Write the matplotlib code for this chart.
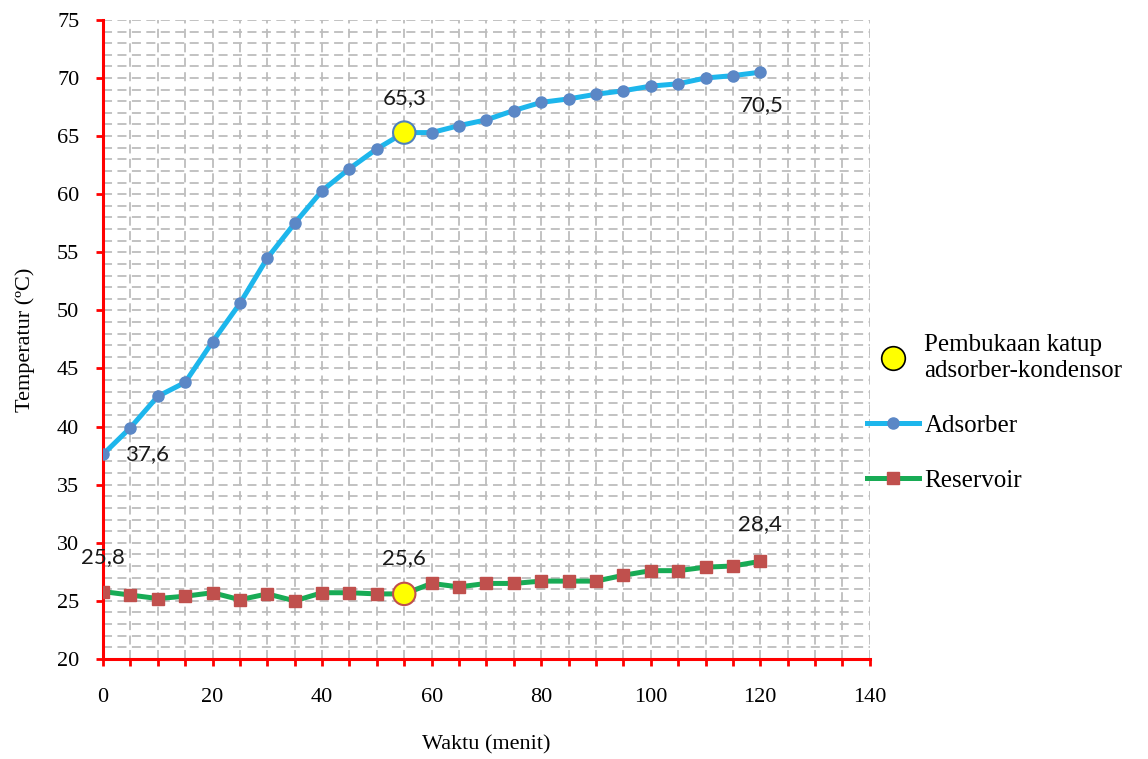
import matplotlib
matplotlib.use("Agg")
import matplotlib.pyplot as plt
from matplotlib.ticker import MultipleLocator
from matplotlib.lines import Line2D

# data
waktu = [0, 5, 10, 15, 20, 25, 30, 35, 40, 45, 50, 55, 60,
         65, 70, 75, 80, 85, 90, 95, 100, 105, 110, 115, 120]
adsorber = [37.6, 39.9, 42.6, 43.8, 47.3, 50.6, 54.5, 57.5, 60.3, 62.2, 63.9, 65.3, 65.3,
            65.9, 66.4, 67.2, 67.9, 68.2, 68.6, 68.9, 69.3, 69.5, 70.0, 70.2, 70.5]
reservoir = [25.8, 25.5, 25.2, 25.4, 25.7, 25.1, 25.6, 25.0, 25.7, 25.7, 25.6, 25.6, 26.5,
             26.2, 26.5, 26.5, 26.7, 26.7, 26.7, 27.2, 27.6, 27.6, 27.9, 28.0, 28.4]
katup_x = [55, 55]
katup_y = [65.3, 25.6]

serif = "Liberation Serif"
sans = "Lato"

fig = plt.figure(figsize=(11.48, 7.59), dpi=100)
ax = fig.add_axes([0.0897, 0.1318, 0.668, 0.842])

# garis
ax.plot(waktu, adsorber, color="#1DB6EC", lw=3.6, marker="o", ms=8,
        mfc="#5B87C6", mec="#5B87C6", zorder=3, label="Adsorber")
ax.plot(waktu, reservoir, color="#18AB55", lw=3.6, marker="s", ms=8.5,
        mfc="#C0504D", mec="#C0504D", zorder=3, label="Reservoir")
ax.scatter(katup_x, katup_y, s=260, c="#FFFF00", edgecolors=["#4F81BD", "#C0504D"],
           linewidths=1.5, zorder=4)

# label data
def lbl(x, y, txt, dx, dy):
    ax.annotate(txt, (x, y), xytext=(dx, dy), textcoords="offset points",
                ha="center", va="center", fontsize=16, family=sans, color="#1A1A1A")

lbl(waktu[0], adsorber[0], "37,6", 32, 0)
lbl(55, 65.3, "65,3", 0, 25)
lbl(waktu[-1], adsorber[-1], "70,5", 1, -24)
lbl(waktu[0], reservoir[0], "25,8", 0, 25)
lbl(55, 25.6, "25,6", 0, 26)
lbl(waktu[-1], reservoir[-1], "28,4", 0, 27)

# sumbu
ax.set_xlim(0, 140)
ax.set_ylim(20, 75)
ax.xaxis.set_major_locator(MultipleLocator(20))
ax.xaxis.set_minor_locator(MultipleLocator(5))
ax.yaxis.set_major_locator(MultipleLocator(5))
ax.yaxis.set_minor_locator(MultipleLocator(1))

for s in ["top", "right"]:
    ax.spines[s].set_visible(False)
for s in ["left", "bottom"]:
    ax.spines[s].set_color("red")
    ax.spines[s].set_linewidth(2.2)

ax.tick_params(axis="x", which="both", direction="out", color="red", width=2, length=5)
ax.tick_params(axis="x", which="major", pad=16, labelsize=16)
ax.tick_params(axis="y", which="major", direction="out", color="red", width=2, length=5,
               pad=12, labelsize=16)
ax.tick_params(axis="y", which="minor", length=0)
for t in ax.get_xticklabels() + ax.get_yticklabels():
    t.set_fontfamily(serif)

ax.grid(True, axis="x", which="both", color="#BDBDBD", lw=1.3, ls=(0, (5, 3)), zorder=0)
ax.grid(True, axis="y", which="both", color="#BDBDBD", lw=1.3, ls=(0, (5, 3)), zorder=0)
ax.set_axisbelow(True)

ax.set_xlabel("Waktu (menit)", fontsize=16, family=serif, labelpad=20)
ax.set_ylabel("Temperatur (ºC)", fontsize=16, family=serif, labelpad=16)

# legenda
h_katup = Line2D([], [], ls="none", marker="o", ms=17, mfc="#FFFF00", mec="black", mew=1.2)
h_ads = Line2D([], [], color="#1DB6EC", lw=3.6, marker="o", ms=8, mfc="#5B87C6", mec="#5B87C6")
h_res = Line2D([], [], color="#18AB55", lw=3.6, marker="s", ms=8.5, mfc="#C0504D", mec="#C0504D")
fig.legend([h_katup, h_ads, h_res],
           ["Pembukaan katup\nadsorber-kondensor", "Adsorber", "Reservoir"],
           loc="center left", bbox_to_anchor=(0.7552, 0.456), frameon=False, borderpad=0,
           borderaxespad=0, prop={"family": serif, "size": 18}, handlelength=2.1,
           handletextpad=0.2, labelspacing=1.3)

plt.savefig("out.png", dpi=100)
